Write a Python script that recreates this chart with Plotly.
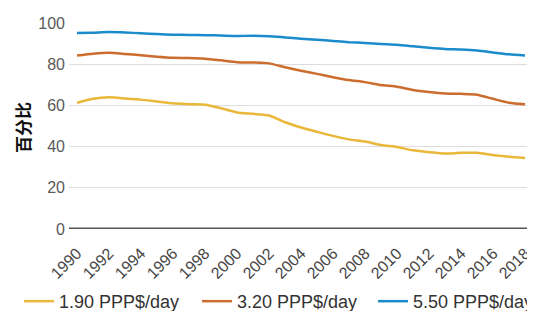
import plotly.graph_objects as go

years = list(range(1990, 2019))
tick_years = list(range(1990, 2019, 2))
y_ticks = [0, 20, 40, 60, 80, 100]

s190 = [61.3, 63.2, 63.9, 63.4, 62.8, 61.9, 61.0, 60.6, 60.3, 58.6, 56.6, 55.9, 55.1, 51.8,
        49.3, 47.2, 45.2, 43.5, 42.5, 40.8, 39.8, 38.2, 37.3, 36.6, 37.0, 37.0, 35.9, 35.1, 34.5]
s320 = [84.2, 85.1, 85.6, 85.0, 84.3, 83.6, 83.1, 83.0, 82.7, 81.9, 81.0, 80.8, 80.4, 78.5,
        76.8, 75.3, 73.7, 72.3, 71.3, 69.9, 69.1, 67.5, 66.5, 65.8, 65.6, 65.2, 63.2, 61.3, 60.5]
s550 = [95.1, 95.3, 95.6, 95.4, 95.0, 94.6, 94.3, 94.2, 94.1, 93.9, 93.7, 93.8, 93.6, 93.0,
        92.4, 91.9, 91.3, 90.7, 90.3, 89.8, 89.4, 88.7, 88.0, 87.4, 87.1, 86.6, 85.7, 84.8, 84.2]

names = ["1.90 PPP$/day", "3.20 PPP$/day", "5.50 PPP$/day"]
colors = ["#E9B83A", "#CC6D2E", "#1B8BCB"]
legend_ids = ["legend", "legend2", "legend3"]
legend_x = [-0.1075, 0.2753, 0.6538]

fig = go.Figure()
for name, vals, c, lid in zip(names, [s190, s320, s550], colors, legend_ids):
    fig.add_trace(go.Scatter(x=years, y=vals, mode="lines", name=name, legend=lid,
                             line=dict(color=c, width=2.5, shape="spline", smoothing=0.6)))

leg_common = dict(orientation="h", xanchor="left", y=-0.262, yanchor="top",
                  font=dict(size=18, color="#333333"), bgcolor="rgba(0,0,0,0)")

# page body has an 8px default margin, so the figure is 8px smaller and margins shifted
fig.update_layout(
    width=527, height=303,
    margin=dict(l=61, r=1, t=15, b=82, autoexpand=False),
    plot_bgcolor="white", paper_bgcolor="white",
    font=dict(family="Liberation Sans, Arial, sans-serif", color="#555555"),
    showlegend=True,
    legend=dict(x=legend_x[0], **leg_common),
    legend2=dict(x=legend_x[1], **leg_common),
    legend3=dict(x=legend_x[2], **leg_common),
    xaxis=dict(range=[1989.5, 2018.56], tickvals=tick_years, ticktext=[str(y) for y in tick_years],
               tickangle=-45, tickfont=dict(size=16, color="#444444"), showgrid=False,
               zeroline=False, showline=False, ticks="", automargin=False,
               ticklabelstandoff=11),
    yaxis=dict(range=[0, 100], tickvals=y_ticks, tickfont=dict(size=16, color="#595959"),
               showgrid=True, gridcolor="#DDDDDD", gridwidth=1, zeroline=False, ticks="",
               automargin=False, ticklabelstandoff=3),
    annotations=[dict(text="<b>百分比</b>", xref="paper", yref="paper", x=-0.101, y=0.49,
                      xanchor="center", yanchor="middle", textangle=-90, showarrow=False,
                      font=dict(size=17, color="#111111", family="Noto Sans CJK SC"))],
)
fig.add_shape(type="line", xref="paper", yref="y", x0=0, x1=1, y0=0, y1=0,
              line=dict(color="#555555", width=3))

fig.write_html("out.html")
